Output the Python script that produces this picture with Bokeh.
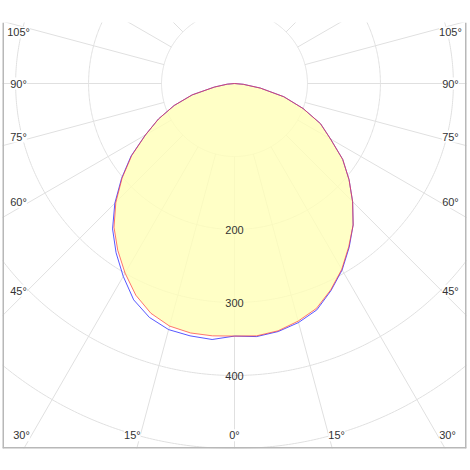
import numpy as np
from bokeh.plotting import figure
from bokeh.models import Range1d, ColumnDataSource, LabelSet, Span
from bokeh.core.properties import value
from bokeh.embed import file_html
from bokeh.resources import INLINE

# luminous intensity (cd) per gamma angle, one list per C-plane half
gamma = [0, 5, 10, 15, 20, 25, 30, 35, 40, 45, 50, 55, 60, 65, 70, 75, 80, 85, 90]
c0 = [346, 347, 344, 337, 328, 312, 294, 273, 253, 229, 205, 181, 152, 130, 100, 70, 36, 12, 0]
c180 = [346, 347, 347, 344, 335, 320, 300, 279, 257, 230, 201, 172, 141, 115, 88, 60, 28, 10, 0]
c90 = [346, 348, 345, 339, 330, 313, 295, 274, 253, 229, 205, 181, 152, 130, 100, 70, 36, 12, 0]
c270 = [346, 352, 351, 349, 341, 327, 305, 283, 260, 232, 202, 173, 141, 115, 88, 60, 28, 10, 0]

ring_values = [100, 200, 300, 400, 500]
ring_labels = [200, 300, 400]
angle_labels = [105, 90, 75, 60, 45, 30, 15, 0]
spoke_step = 15

GRID = "#e0e0e0"
TEXT = "#333333"
FONT = "'Liberation Sans', Arial, sans-serif"


def plane_xy(right, left):
    g = np.radians(gamma)
    rr = np.array(right, dtype=float)
    rl = np.array(left, dtype=float)
    x = np.concatenate([(-rl * np.sin(g))[::-1], (rr * np.sin(g))[1:]])
    y = np.concatenate([(-rl * np.cos(g))[::-1], (-rr * np.cos(g))[1:]])
    return x, y


p = figure(
    width=468,
    height=452,
    x_range=Range1d(-318, 318),
    y_range=Range1d(-500, 83.6),
    x_axis_type=None,
    y_axis_type=None,
    output_backend="svg",
    toolbar_location=None,
    min_border_left=2,
    min_border_right=2,
    min_border_top=22,
    min_border_bottom=4,
)
p.grid.visible = False
p.outline_line_color = None
p.background_fill_color = "white"

# rings
t = np.linspace(0, 2 * np.pi, 721)
p.multi_line(
    [list(r * np.cos(t)) for r in ring_values],
    [list(r * np.sin(t)) for r in ring_values],
    line_color=GRID,
    line_width=1,
)

# spokes every 15 degrees, from the first ring outwards
sp = np.radians(np.arange(0, 360, spoke_step))
r0 = ring_values[0]
p.segment(
    x0=r0 * np.sin(sp), y0=-r0 * np.cos(sp),
    x1=900 * np.sin(sp), y1=-900 * np.cos(sp),
    line_color=GRID, line_width=1,
)

xr, yr = plane_xy(c0, c180)
xb, yb = plane_xy(c90, c270)

p.patch(xr, yr, fill_color="#ffffb8", fill_alpha=0.8, line_color=None)
p.line(xb, yb, line_color="#3a3aff", line_width=1, line_alpha=0.85)
p.line(xr, yr, line_color="#ff3a3a", line_width=1, line_alpha=0.7)

# frame: left, right, bottom
for loc, dim in [(-318, "height"), (318, "height"), (-500, "width")]:
    p.add_layout(Span(location=loc, dimension=dim, line_color="#b8b8b8", line_width=3))

# intensity labels along the nadir line
val_src = ColumnDataSource(dict(
    x=[0] * len(ring_labels),
    y=[-v for v in ring_labels],
    text=[str(v) for v in ring_labels],
))
p.add_layout(LabelSet(
    x="x", y="y", text="text", source=val_src,
    text_align="center", text_baseline="middle",
    text_font=value(FONT), text_font_size="11px", text_color=TEXT,
))

# angle labels at the frame edges
side_x, bottom_y, top_y, tilt = 296, -482, 70, 1.2
ax, ay, at = [], [], []
for a in angle_labels:
    a2 = a + tilt if 0 < a < 90 else (a - tilt if a > 90 else a)
    rad = np.radians(a2)
    if a >= 45:
        x = side_x
        y = min(-side_x / np.tan(rad), top_y) if a != 90 else 0.0
    else:
        y = bottom_y
        x = min(-bottom_y * np.tan(rad), side_x)
    sides = [x] if a == 0 else [-x, x]
    for sx in sides:
        ax.append(sx)
        ay.append(y)
        at.append(f"{a}°")

ang_src = ColumnDataSource(dict(x=ax, y=ay, text=at))
p.add_layout(LabelSet(
    x="x", y="y", text="text", source=ang_src,
    text_align="center", text_baseline="middle",
    text_font=value(FONT), text_font_size="11px", text_color=TEXT,
    background_fill_color="white",
))

open("out.html", "w").write(file_html(p, INLINE))
